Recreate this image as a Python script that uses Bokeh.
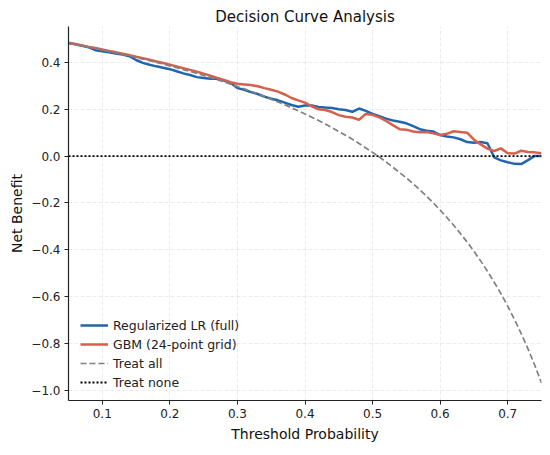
from bokeh.plotting import figure
from bokeh.embed import file_html
from bokeh.resources import INLINE
from bokeh.models import FixedTicker, CustomJSTickFormatter, Legend, LegendItem, Range1d

thresholds = [round(0.05 + 0.01 * i, 2) for i in range(71)]

lr_full = [0.482, 0.477, 0.471, 0.464, 0.452, 0.447, 0.443, 0.438, 0.433, 0.426,
           0.410, 0.398, 0.390, 0.383, 0.377, 0.371, 0.362, 0.353, 0.346, 0.337,
           0.333, 0.330, 0.331, 0.322, 0.313, 0.290, 0.283, 0.273, 0.265, 0.254,
           0.245, 0.238, 0.228, 0.218, 0.211, 0.216, 0.216, 0.210, 0.207, 0.205,
           0.200, 0.197, 0.189, 0.203, 0.193, 0.180, 0.170, 0.160, 0.152, 0.147,
           0.140, 0.128, 0.115, 0.108, 0.105, 0.090, 0.084, 0.080, 0.072, 0.060,
           0.057, 0.060, 0.055, -0.005, -0.018, -0.026, -0.033, -0.034, -0.017, 0.001,
           0.001]

gbm_grid = [0.484, 0.478, 0.472, 0.466, 0.461, 0.455, 0.449, 0.443, 0.437, 0.431,
            0.424, 0.418, 0.411, 0.404, 0.397, 0.390, 0.383, 0.375, 0.368, 0.360,
            0.352, 0.343, 0.334, 0.325, 0.315, 0.309, 0.306, 0.303, 0.298, 0.290,
            0.283, 0.275, 0.263, 0.248, 0.238, 0.228, 0.212, 0.200, 0.197, 0.188,
            0.175, 0.168, 0.165, 0.155, 0.180, 0.176, 0.165, 0.150, 0.132, 0.115,
            0.113, 0.105, 0.102, 0.103, 0.097, 0.090, 0.095, 0.106, 0.103, 0.100,
            0.070, 0.050, 0.032, 0.022, 0.033, 0.012, 0.011, 0.023, 0.018, 0.016,
            0.012]

treat_all = [0.482, 0.477, 0.471, 0.465, 0.459, 0.453, 0.447, 0.441, 0.434, 0.428,
             0.421, 0.414, 0.407, 0.400, 0.393, 0.385, 0.377, 0.369, 0.361, 0.353,
             0.344, 0.335, 0.326, 0.317, 0.307, 0.297, 0.287, 0.276, 0.266, 0.255,
             0.243, 0.231, 0.219, 0.206, 0.193, 0.180, 0.166, 0.152, 0.137, 0.121,
             0.105, 0.089, 0.072, 0.054, 0.035, 0.016, -0.004, -0.025, -0.047, -0.070,
             -0.093, -0.118, -0.144, -0.171, -0.200, -0.230, -0.262, -0.295, -0.330, -0.367,
             -0.406, -0.447, -0.491, -0.538, -0.587, -0.640, -0.697, -0.757, -0.822, -0.892,
             -0.968]

treat_none_x = [0.05, 0.75]
treat_none_y = [0.0, 0.0]

x_ticks = [0.1, 0.2, 0.3, 0.4, 0.5, 0.6, 0.7]
y_ticks = [-1.0, -0.8, -0.6, -0.4, -0.2, 0.0, 0.2, 0.4]

FONT = "DejaVu Sans"

p = figure(width=542, height=446, output_backend="svg", toolbar_location=None,
           x_range=Range1d(0.05, 0.75), y_range=Range1d(-1.0426, 0.553),
           min_border_left=68, min_border_right=1, min_border_top=26, min_border_bottom=46)

p.title.text = "Decision Curve Analysis"
p.title.align = "center"
p.title.vertical_align = "middle"
p.title.text_font = FONT
p.title.text_font_size = "15px"
p.title.text_font_style = "normal"
p.title.text_color = "#111111"
p.title.standoff = 0
p.title.offset = 0

p.outline_line_color = None
p.background_fill_color = "white"
p.border_fill_color = "white"

r_lr = p.line(thresholds, lr_full, line_color="#2166ac", line_width=2.5)
r_gbm = p.line(thresholds, gbm_grid, line_color="#d6604d", line_width=2.5)
r_all = p.line(thresholds, treat_all, line_color="gray", line_width=1.7, line_dash="6 3")
r_none = p.line(treat_none_x, treat_none_y, line_color="black", line_width=1.9, line_dash="2 2")

fmt = CustomJSTickFormatter(code="return tick.toFixed(1).replace('-', '\u2212');")

for ax in (p.xaxis[0], p.yaxis[0]):
    ax.formatter = fmt
    ax.major_label_text_font = FONT
    ax.major_label_text_font_size = "12px"
    ax.major_label_text_color = "#222222"
    ax.axis_label_text_font = FONT
    ax.axis_label_text_font_size = "14px"
    ax.axis_label_text_font_style = "normal"
    ax.axis_label_text_color = "#111111"
    ax.axis_line_color = "#222222"
    ax.axis_line_width = 1.2
    ax.major_tick_line_color = "#222222"
    ax.major_tick_out = 4
    ax.major_tick_in = 0
    ax.minor_tick_line_color = None
    ax.major_label_standoff = 4

p.xaxis[0].ticker = FixedTicker(ticks=x_ticks)
p.yaxis[0].ticker = FixedTicker(ticks=y_ticks)
p.xaxis[0].axis_label = "Threshold Probability"
p.yaxis[0].axis_label = "Net Benefit"
p.xaxis[0].axis_label_standoff = 5
p.yaxis[0].axis_label_standoff = 3

for g in (p.xgrid[0], p.ygrid[0]):
    g.grid_line_color = "#d8d8d8"
    g.grid_line_dash = "4 2"
    g.grid_line_width = 0.8
    g.grid_line_alpha = 0.6

legend = Legend(items=[
    LegendItem(label="Regularized LR (full)", renderers=[r_lr]),
    LegendItem(label="GBM (24-point grid)", renderers=[r_gbm]),
    LegendItem(label="Treat all", renderers=[r_all]),
    LegendItem(label="Treat none", renderers=[r_none]),
], location=(12, 10))
legend.border_line_color = None
legend.background_fill_alpha = 0.0
legend.margin = 0
legend.padding = 9
legend.spacing = 3
legend.glyph_width = 28
legend.glyph_height = 16
legend.label_height = 16
legend.label_standoff = 5
legend.label_text_font = FONT
legend.label_text_font_size = "12.5px"
legend.label_text_color = "#222222"
p.add_layout(legend, "center")

open("out.html", "w").write(file_html(p, INLINE))
